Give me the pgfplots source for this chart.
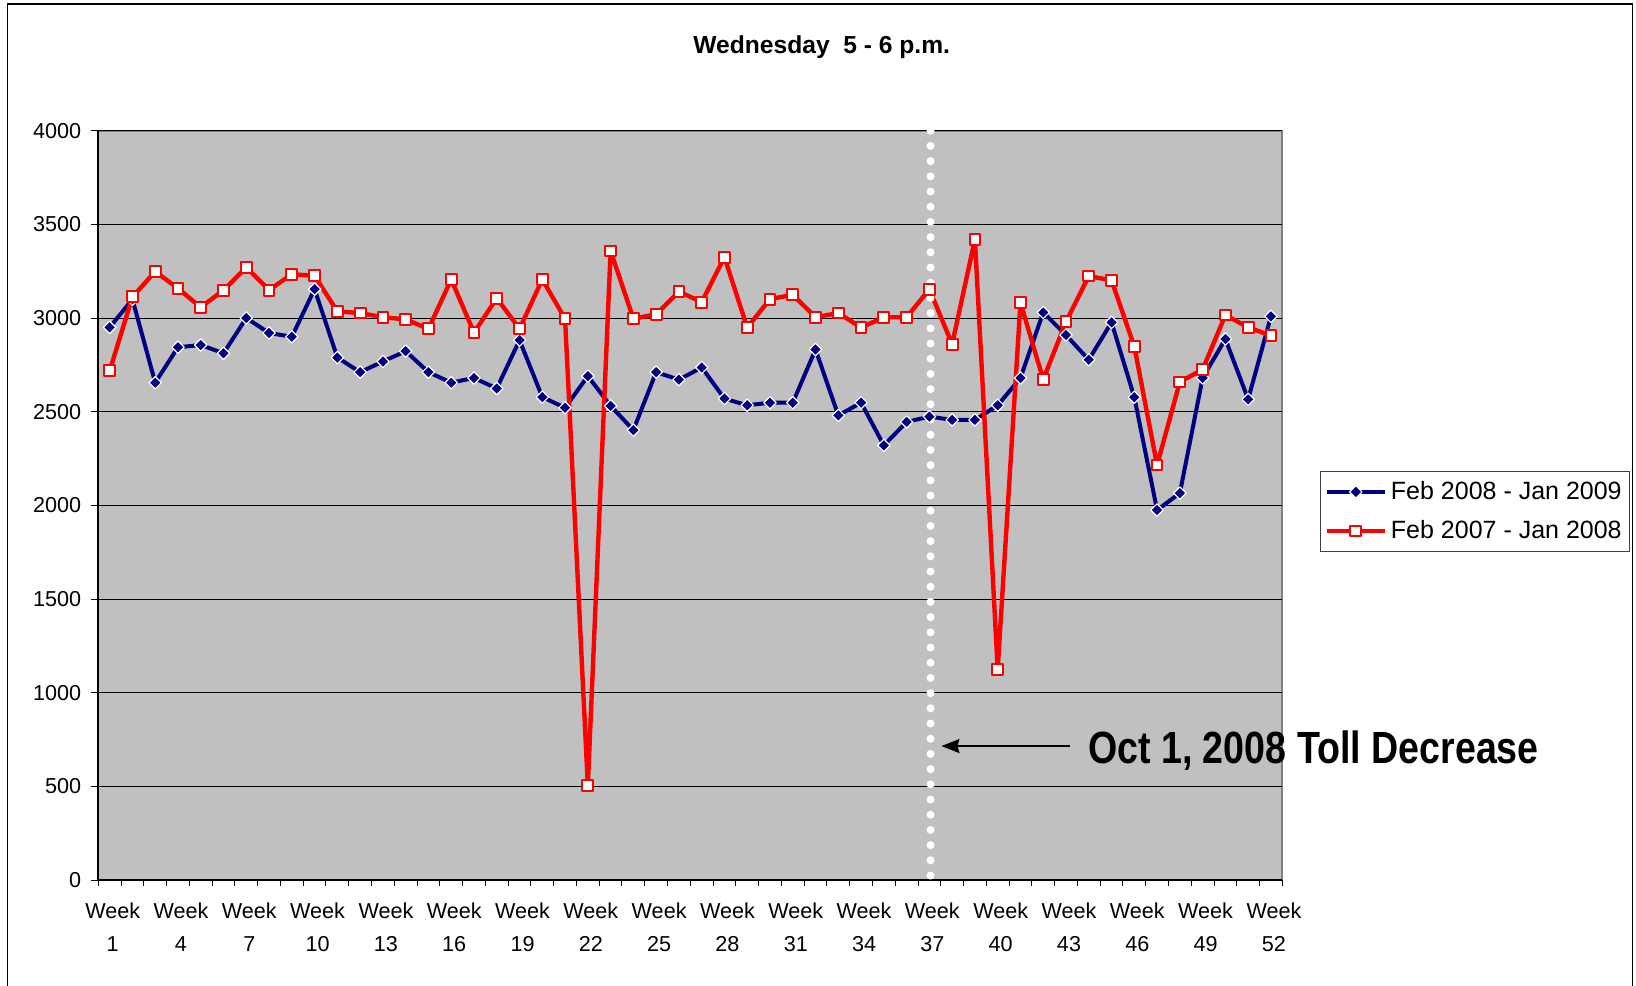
\documentclass[border=0pt]{standalone}
\usepackage{fontspec}
\setmainfont{Liberation Sans}
\usepackage{pgfplots}
\pgfplotsset{compat=1.18}
\usetikzlibrary{arrows.meta}
\definecolor{navy}{HTML}{000080}
\definecolor{plotbg}{HTML}{C0C0C0}
\definecolor{frameGray}{HTML}{808080}

\pgfplotstableread{
week val
1 2950
2 3100
3 2655
4 2844
5 2856
6 2812
7 3000
8 2920
9 2900
10 3154
11 2789
12 2711
13 2768
14 2823
15 2711
16 2655
17 2680
18 2624
19 2882
20 2578
21 2521
22 2690
23 2531
24 2402
25 2711
26 2671
27 2736
28 2570
29 2534
30 2548
31 2548
32 2832
33 2480
34 2548
35 2320
36 2445
37 2474
38 2456
39 2456
40 2534
41 2680
42 3030
43 2909
44 2777
45 2977
46 2577
47 1975
48 2065
49 2680
50 2888
51 2566
52 3009
}\blueseries

\pgfplotstableread{
week val
1 2718
2 3113
3 3248
4 3158
5 3057
6 3149
7 3270
8 3149
9 3234
10 3225
11 3035
12 3027
13 3004
14 2993
15 2942
16 3206
17 2922
18 3106
19 2942
20 3206
21 2996
22 505
23 3358
24 2996
25 3020
26 3141
27 3085
28 3325
29 2949
30 3101
31 3124
32 3004
33 3027
34 2949
35 3004
36 3004
37 3154
38 2860
39 3420
40 1125
41 3082
42 2672
43 2980
44 3224
45 3201
46 2848
47 2215
48 2659
49 2725
50 3016
51 2950
52 2906
}\redseries

\begin{document}
\begin{tikzpicture}[x=1pt,y=1pt]
\useasboundingbox (0,0) rectangle (818,492.5);
\fill[white] (0,0) rectangle (818,492.5);
\draw[black, line width=0.75pt] (3.65,-5) -- (3.65,490.5) -- (816.15,490.5) -- (816.15,-5);
\node[font=\fontsize{12.3}{14}\selectfont\bfseries] at (410.85,469) {Wednesday\ \ 5 - 6 p.m.};
\begin{axis}[
  at={(49.15pt,52.5pt)}, anchor=south west, scale only axis,
  width=592pt, height=374.65pt,
  xmin=0.5, xmax=52.5, ymin=0, ymax=4000,
  clip=false,
  axis line style={draw=none},
  axis background/.style={fill=plotbg, draw=frameGray, line width=1pt},
  xtick pos=bottom, ytick pos=left,
  tick align=outside,
  ytick={0,500,...,4000},
  ymajorgrids, major grid style={black, line width=0.5pt},
  major tick length=3.5pt,
  minor tick length=3pt,
  xtick={1,4,...,52},
  xticklabels={{Week\\1},{Week\\4},{Week\\7},{Week\\10},{Week\\13},{Week\\16},{Week\\19},{Week\\22},{Week\\25},{Week\\28},{Week\\31},{Week\\34},{Week\\37},{Week\\40},{Week\\43},{Week\\46},{Week\\49},{Week\\52}},
  major x tick style={draw=none},
  minor xtick={0.5,1.5,...,52.5},
  minor x tick style={black, line width=0.5pt},
  y tick style={black, line width=0.5pt},
  xticklabel style={align=center, font=\fontsize{10.8}{16.5}\selectfont, yshift=-4.5pt, xshift=1.5pt},
  yticklabel style={font=\fontsize{10.8}{13}\selectfont, xshift=-1.5pt},
  /pgf/number format/assume math mode=true,
  /pgf/number format/1000 sep={},
  legend style={at={(1.0318,0.5462)}, anchor=north west, draw=black!75, line width=0.6pt,
    font=\fontsize{12.5}{15}\selectfont, row sep=5pt, inner xsep=2pt, inner ysep=3pt,
    cells={anchor=west}},
  legend image code/.code={\draw[mark repeat=2, mark phase=2] plot coordinates {(0pt,0pt)(14.5pt,0pt)(29pt,0pt)};},
]
\draw[black, line width=0.8pt] (rel axis cs:0,1) -- (rel axis cs:0,0) -- (rel axis cs:1,0);
\addplot[navy, line width=2pt, line join=round, mark=square*, mark size=2.2pt,
  mark options={rotate=45, fill=navy, draw=white, line width=0.6pt, solid}]
  table[x=week, y=val] {\blueseries};
\addplot[red, line width=2.2pt, line join=round, mark=square*, mark size=2.7pt,
  mark options={fill=white, draw=red, line width=1pt, solid}]
  table[x=week, y=val] {\redseries};
\legend{Feb 2008 - Jan 2009, Feb 2007 - Jan 2008}
\draw[white, line width=4pt, line cap=round, dash pattern=on 0pt off 7.6pt] (axis cs:37.05,4000) -- (axis cs:37.05,0);
\draw[-{Stealth[length=9pt,width=7pt,inset=1pt]}, line width=1pt] (axis cs:43.17,715) -- (axis cs:37.53,715);
\node[anchor=west, font=\fontsize{18.8}{20}\selectfont\bfseries, inner sep=0pt] at (axis cs:43.95,693) {\scalebox{1}[1.2]{Oct 1, 2008 Toll Decrease}};
\end{axis}
\end{tikzpicture}
\end{document}
